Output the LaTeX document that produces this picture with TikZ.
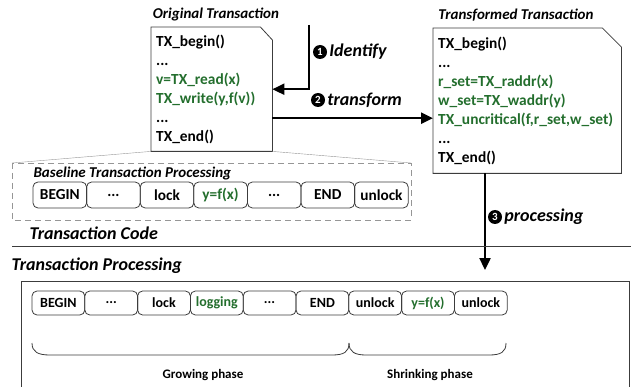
\documentclass[tikz,border=0pt]{standalone}
\usepackage{fontspec}
\setmainfont{Carlito}
\usetikzlibrary{arrows.meta,positioning}
\definecolor{codegreen}{RGB}{35,110,45}
\definecolor{framegray}{RGB}{150,150,150}
\definecolor{linegray}{RGB}{60,60,60}
\newcommand{\tdots}{...}
\tikzset{
    code-box/.style = {text width=#1, align=left, inner xsep=5pt, inner ysep=0pt, anchor=north west, font=\bfseries\fontsize{15.4}{19}\selectfont},
    box-title/.style = {font=\bfseries\itshape\fontsize{15}{15}\selectfont},
    part-title/.style = {font=\bfseries\itshape\fontsize{18}{18}\selectfont, anchor=west},
    flow-arrow/.style = {line width=2.4pt, -{Triangle[length=12pt,width=11pt]}},
    num-dot/.style = {circle, fill=black, text=white, inner sep=0pt, minimum size=14pt, font=\bfseries\fontsize{11}{11}\selectfont},
    num-label/.style = {font=\bfseries\itshape\fontsize{18}{18}\selectfont, inner sep=1pt},
    op-box/.style = {draw=linegray, rounded corners=5pt, thick, minimum width=#1, inner sep=0pt, font=\bfseries\fontsize{15.3}{15.3}\selectfont},
    phase-brace/.style = {draw=linegray, thick},
}

\begin{document}
\begin{tikzpicture}[x=1pt, y=-1pt]
\useasboundingbox (0,0) rectangle (631,387);

% the two transactions
\node[code-box=111pt, minimum height=124pt] (orig) at (151,27) {TX\_begin()\\...\\
  \textcolor{codegreen}{v=TX\_read(x)}\\\textcolor{codegreen}{TX\_write(y,f(v))}\\...\\TX\_end()};
\draw[linegray, thick] (orig.south west) -- (orig.north west) -- ([xshift=-12pt]orig.north east)
  -- ([yshift=-13pt]orig.north east) -- (orig.south east) -- cycle;
\node[box-title] (orig-title) at (216,15) {Original Transaction};

\node[code-box=178pt, minimum height=145pt] (trans) at (433,28) {TX\_begin()\\...\\
  \textcolor{codegreen}{r\_set=TX\_raddr(x)}\\\textcolor{codegreen}{w\_set=TX\_waddr(y)}\\
  \textcolor{codegreen}{TX\_uncritical(f,r\_set,w\_set)}\\...\\TX\_end()};
\draw[linegray, thick] (trans.south west) -- (trans.north west) -- ([xshift=-19pt]trans.north east)
  -- ([yshift=-19pt]trans.north east) -- (trans.south east) -- cycle;
\node[box-title] (trans-title) at (516,15) {Transformed Transaction};

% steps
\coordinate (id-start) at (309,25);
\draw[flow-arrow] (id-start) |- (orig.east);
\node[num-dot] (n1) at (320,52) {1};
\node[num-label, right=1pt of n1] (l1) {Identify};

\draw[flow-arrow] ([yshift=-29pt]orig.east) -- ([yshift=-29pt]orig.east -| trans.west);
\node[num-dot] (n2) at (318,100) {2};
\node[num-label, right=1pt of n2] (l2) {transform};

\coordinate (proc-in) at (485,270);
\draw[flow-arrow] (trans.south -| proc-in) -- (proc-in);
\node[num-dot] (n3) at (495,217) {3};
\node[num-label, right=1pt of n3] (l3) {processing};

% baseline processing
\draw[framegray, dashed, dash pattern=on 6pt off 4pt] (12,163) rectangle (411,220);
\draw[framegray] (orig.south west) -- (12,163);
\draw[framegray] (orig.south east) -- (411,163);
\node[box-title, anchor=west] (base-title) at (30,173) {Baseline Transaction Processing};
\foreach \lbl/\col [count=\i] in {BEGIN/black, \tdots/black, lock/black, {y=f(x)}/codegreen, \tdots/black, END/black, unlock/black}
  \node[op-box=53.6pt, minimum height=26pt, text=\col] (b\i) at (33+53.6*\i-26.8,195) {\lbl};

\node[part-title] (code-title) at (26,233) {Transaction Code};
\draw[linegray, thick] (12,246) -- (631,246);
\node[part-title] (proc-title) at (8,266) {Transaction Processing};

% processing
\draw[linegray, thick] (21,392) -- (21,281) -- (629,281) -- (629,392);
\foreach \lbl/\col [count=\i] in {BEGIN/black, \tdots/black, lock/black, logging/codegreen, \tdots/black, END/black, unlock/black, {y=f(x)}/codegreen, unlock/black}
  \node[op-box=52.8pt, minimum height=24pt, text=\col, font=\bfseries\fontsize{14}{14}\selectfont] (p\i) at (32+52.8*\i-26.4,303) {\lbl};

\draw[phase-brace] (32,343) .. controls (32,352) and (38,355) .. (50,355) -- (332,355)
  .. controls (344,355) and (349,352) .. (349,343);
\draw[phase-brace] (349,343) .. controls (349,352) and (355,355) .. (366,355) -- (489,355)
  .. controls (501,355) and (506,352) .. (506,343);
\node[font=\bfseries\fontsize{13}{13}\selectfont] (grow) at (203,375) {Growing phase};
\node[font=\bfseries\fontsize{13}{13}\selectfont] (shrink) at (430,375) {Shrinking phase};
\end{tikzpicture}
\end{document}
